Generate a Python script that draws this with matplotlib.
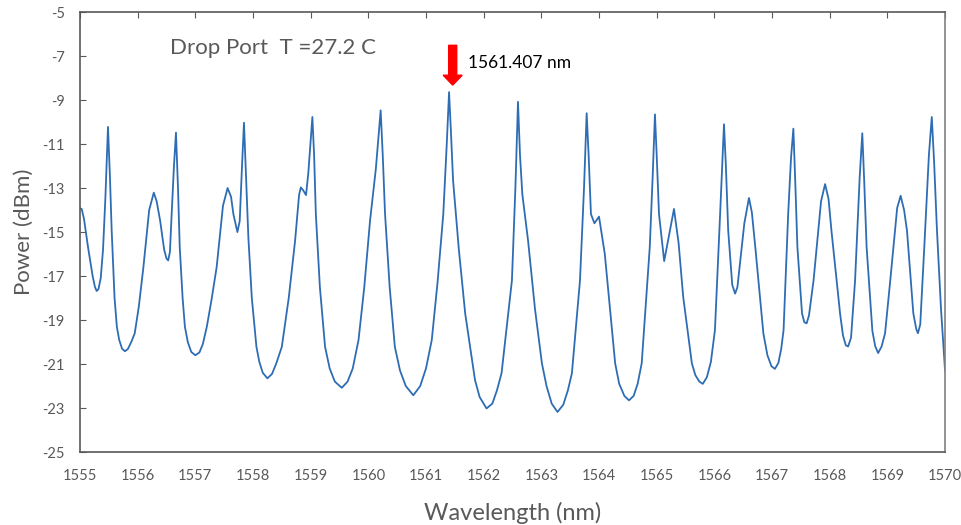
import matplotlib
matplotlib.use("Agg")
import matplotlib.pyplot as plt

# spectrum (wavelength nm, power dBm)
wavelength = [
    1555.00, 1555.03, 1555.07, 1555.14, 1555.22, 1555.26, 1555.29, 1555.32, 1555.36, 1555.40,
    1555.44, 1555.486, 1555.52, 1555.55, 1555.60, 1555.64, 1555.68, 1555.73, 1555.78, 1555.83,
    1555.89, 1555.95, 1556.02, 1556.10, 1556.20, 1556.28, 1556.33, 1556.39, 1556.46, 1556.50,
    1556.53, 1556.56, 1556.59, 1556.63, 1556.665, 1556.70, 1556.73, 1556.78, 1556.82, 1556.87,
    1556.93, 1557.00, 1557.07, 1557.13, 1557.20, 1557.28, 1557.37, 1557.48, 1557.56, 1557.62,
    1557.66, 1557.73, 1557.77, 1557.81, 1557.844, 1557.88, 1557.92, 1557.98, 1558.06, 1558.11,
    1558.17, 1558.25, 1558.33, 1558.40, 1558.50, 1558.62, 1558.73, 1558.80, 1558.83, 1558.87,
    1558.92, 1558.96, 1559.03, 1559.06, 1559.09, 1559.16, 1559.25, 1559.33, 1559.42, 1559.54,
    1559.64, 1559.73, 1559.83, 1559.93, 1560.03, 1560.13, 1560.214, 1560.25, 1560.29, 1560.37,
    1560.46, 1560.55, 1560.65, 1560.78, 1560.90, 1561.00, 1561.10, 1561.20, 1561.30, 1561.36,
    1561.40, 1561.43, 1561.47, 1561.57, 1561.68, 1561.85, 1561.93, 1562.05, 1562.15, 1562.23,
    1562.31, 1562.49, 1562.55, 1562.595, 1562.63, 1562.67, 1562.77, 1562.89, 1563.01, 1563.09,
    1563.18, 1563.28, 1563.38, 1563.46, 1563.53, 1563.67, 1563.74, 1563.786, 1563.82, 1563.86,
    1563.92, 1564.00, 1564.10, 1564.28, 1564.35, 1564.44, 1564.52, 1564.60, 1564.67, 1564.74,
    1564.88, 1564.93, 1564.97, 1565.00, 1565.04, 1565.13, 1565.21, 1565.30, 1565.38, 1565.46,
    1565.61, 1565.67, 1565.74, 1565.80, 1565.87, 1565.94, 1566.01, 1566.10, 1566.167, 1566.20,
    1566.24, 1566.31, 1566.36, 1566.40, 1566.45, 1566.52, 1566.60, 1566.65, 1566.71, 1566.85,
    1566.92, 1566.99, 1567.05, 1567.11, 1567.16, 1567.20, 1567.28, 1567.33, 1567.37, 1567.40,
    1567.44, 1567.52, 1567.56, 1567.60, 1567.64, 1567.72, 1567.85, 1567.92, 1567.98, 1568.03,
    1568.18, 1568.23, 1568.28, 1568.32, 1568.37, 1568.44, 1568.52, 1568.565, 1568.60, 1568.64,
    1568.74, 1568.79, 1568.84, 1568.90, 1568.96, 1569.05, 1569.17, 1569.23, 1569.29, 1569.34,
    1569.45, 1569.50, 1569.53, 1569.57, 1569.64, 1569.72, 1569.77, 1569.81, 1569.86, 1569.93,
    1570.00,
]
power = [
    -13.92, -13.95, -14.40, -15.69, -17.00, -17.50, -17.68, -17.60, -17.10, -15.80,
    -13.50, -10.22, -12.50, -14.93, -18.00, -19.31, -19.90, -20.30, -20.42, -20.32,
    -20.00, -19.60, -18.40, -16.60, -14.00, -13.21, -13.60, -14.48, -15.80, -16.20,
    -16.29, -15.90, -14.18, -12.00, -10.48, -13.00, -15.69, -18.00, -19.31, -20.00,
    -20.45, -20.60, -20.48, -20.10, -19.30, -18.10, -16.60, -13.80, -13.00, -13.40,
    -14.18, -15.00, -14.50, -12.00, -10.03, -12.50, -15.24, -18.00, -20.22, -20.90,
    -21.40, -21.65, -21.45, -21.00, -20.22, -18.00, -15.40, -13.30, -12.97, -13.10,
    -13.32, -12.30, -9.77, -11.50, -14.18, -17.50, -20.22, -21.20, -21.80, -22.08,
    -21.80, -21.20, -19.91, -17.50, -14.48, -12.14, -9.47, -11.50, -14.18, -17.50,
    -20.22, -21.30, -22.00, -22.42, -22.00, -21.20, -19.91, -17.30, -14.18, -11.00,
    -8.64, -10.30, -12.67, -15.80, -18.71, -21.73, -22.50, -23.02, -22.80, -22.20,
    -21.42, -17.20, -13.00, -9.08, -11.50, -13.27, -15.39, -18.50, -20.97, -22.00,
    -22.80, -23.18, -22.85, -22.20, -21.42, -17.20, -13.00, -9.60, -11.50, -14.18,
    -14.60, -14.30, -15.99, -20.97, -21.90, -22.45, -22.65, -22.45, -21.90, -20.97,
    -15.69, -12.50, -9.65, -11.50, -14.18, -16.32, -15.20, -13.95, -15.50, -17.95,
    -20.97, -21.50, -21.80, -21.90, -21.60, -20.90, -19.46, -14.18, -10.10, -12.00,
    -14.93, -17.40, -17.80, -17.50, -16.30, -14.60, -13.45, -14.10, -15.69, -19.61,
    -20.60, -21.10, -21.22, -20.95, -20.30, -19.46, -14.18, -11.60, -10.30, -12.50,
    -15.69, -18.70, -19.10, -19.15, -18.80, -17.20, -13.60, -12.82, -13.50, -14.93,
    -18.71, -19.70, -20.15, -20.20, -19.80, -17.20, -12.50, -10.51, -12.80, -15.69,
    -19.50, -20.20, -20.50, -20.20, -19.60, -17.20, -13.90, -13.35, -14.00, -14.93,
    -18.70, -19.40, -19.60, -19.20, -15.69, -11.50, -9.77, -11.80, -14.93, -18.50,
    -21.30,
]

x_ticks = list(range(1555, 1571))
y_ticks = list(range(-25, -4, 2))

marked_peak = 1561.407
title_text = "Drop Port  T =27.2 C"
peak_text = f"{marked_peak} nm"

line_color = "#2e6db4"
gray = "#595959"

plt.rcParams["font.family"] = ["Lato", "DejaVu Sans"]
plt.rcParams["axes.unicode_minus"] = False

fig = plt.figure(figsize=(9.61, 5.25), dpi=100)
ax = fig.add_axes([0.0832, 0.139, 0.9002, 0.838])

ax.plot(wavelength, power, color=line_color, linewidth=1.3)

ax.set_xlim(1555, 1570)
ax.set_ylim(-25, -5)
ax.set_xticks(x_ticks)
ax.set_yticks(y_ticks)

for side in ["left", "bottom", "top", "right"]:
    ax.spines[side].set_color(gray)
    ax.spines[side].set_linewidth(1.2)
ax.spines["right"].set_color("#808080")

ax.tick_params(axis="x", which="both", bottom=False, top=True, direction="in",
               length=4, color=gray, labelsize=10.5, labelcolor=gray, pad=12)
ax.tick_params(axis="y", direction="in", length=4, color=gray,
               labelsize=10.5, labelcolor=gray, pad=11)

ax.set_xlabel("Wavelength (nm)", fontsize=17, color=gray, labelpad=14)
ax.set_ylabel("Power (dBm)", fontsize=16, color=gray, labelpad=6)

ax.text(1556.56, -6.64, title_text, fontsize=16, color=gray,
        ha="left", va="center")

# red marker arrow over the highlighted resonance
ax.arrow(1561.463, -6.51, 0, -1.81, width=0.14, head_width=0.33,
         head_length=0.45, length_includes_head=True,
         facecolor="#ff0000", edgecolor="#ff0000", zorder=5)
ax.text(1561.73, -7.31, peak_text, fontsize=12.5, color="black",
        ha="left", va="center")

fig.savefig("out.png", dpi=100)
